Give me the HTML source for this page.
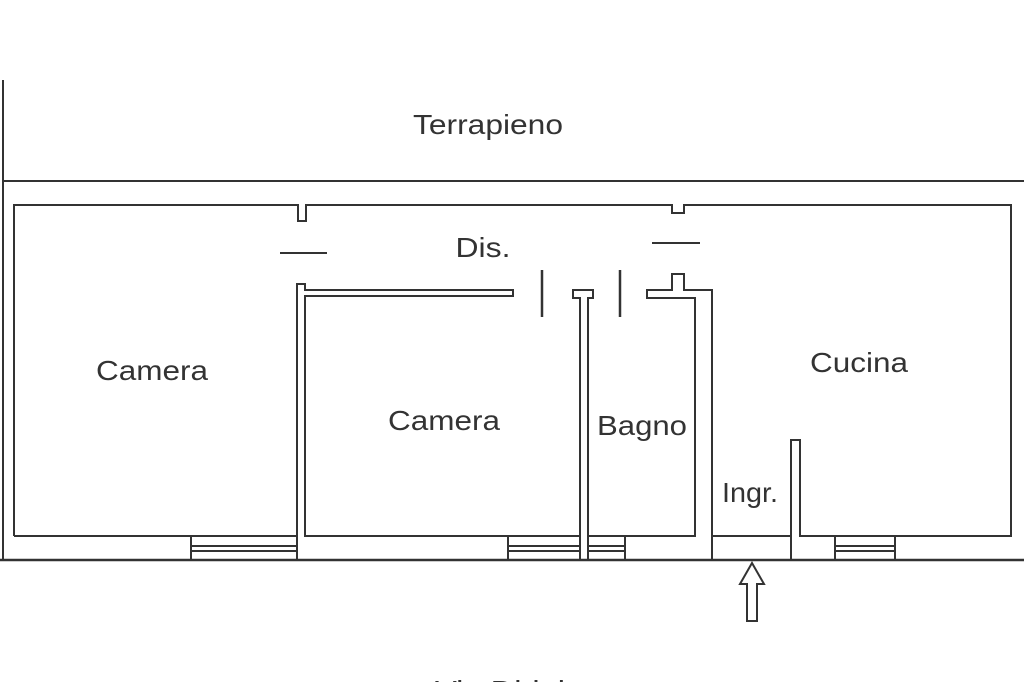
<!DOCTYPE html>
<html><head><style>
html,body{margin:0;padding:0;background:#fff;}
svg{display:block}
text{font-family:"Liberation Sans",sans-serif;fill:#333;font-size:28px;text-anchor:middle}
</style></head><body>
<svg width="1024" height="682" viewBox="0 0 1024 682" xmlns="http://www.w3.org/2000/svg">
<g stroke="#333" stroke-width="2" fill="none">
<line x1="3" y1="80" x2="3" y2="561"/>
<line x1="3" y1="181" x2="1024" y2="181"/>
<line x1="0" y1="560" x2="1024" y2="560" stroke-width="2.5"/>
<polyline points="14,536 14,205 298,205 298,221 306,221 306,205 672,205 672,213 684,213 684,205 1011,205 1011,536 800,536 800,440 791,440 791,560"/>
<line x1="14" y1="536" x2="297" y2="536"/>
<polyline points="297,560 297,284 305,284 305,290 513,290 513,296 305,296 305,536 580,536"/>
<line x1="280" y1="253" x2="327" y2="253"/>
<line x1="542" y1="270" x2="542" y2="317" stroke-width="2.5"/>
<line x1="620" y1="270" x2="620" y2="317" stroke-width="2.5"/>
<polyline points="580,560 580,298 573,298 573,290 593,290 593,298 588,298 588,560"/>
<polyline points="588,536 695,536 695,298 647,298 647,290 672,290 672,274 684,274 684,290 712,290 712,560"/>
<line x1="652" y1="243" x2="700" y2="243"/>
<line x1="712" y1="536" x2="791" y2="536"/>
<g>
<line x1="191" y1="536" x2="191" y2="560"/>
<line x1="191" y1="546" x2="297" y2="546"/>
<line x1="191" y1="551" x2="297" y2="551"/>
<line x1="508" y1="536" x2="508" y2="560"/>
<line x1="508" y1="546" x2="580" y2="546"/>
<line x1="508" y1="551" x2="580" y2="551"/>
<line x1="588" y1="546" x2="625" y2="546"/>
<line x1="588" y1="551" x2="625" y2="551"/>
<line x1="625" y1="536" x2="625" y2="560"/>
<line x1="835" y1="536" x2="835" y2="560"/>
<line x1="835" y1="546" x2="895" y2="546"/>
<line x1="835" y1="551" x2="895" y2="551"/>
<line x1="895" y1="536" x2="895" y2="560"/>
</g>
<polygon points="752,563 740,584 747,584 747,621 757,621 757,584 764,584" stroke-width="2"/>
</g>
<text x="488" y="134" textLength="150" lengthAdjust="spacingAndGlyphs">Terrapieno</text>
<text x="483" y="257" textLength="55" lengthAdjust="spacingAndGlyphs">Dis.</text>
<text x="152" y="380" textLength="112" lengthAdjust="spacingAndGlyphs">Camera</text>
<text x="444" y="430" textLength="112" lengthAdjust="spacingAndGlyphs">Camera</text>
<text x="642" y="435" textLength="90" lengthAdjust="spacingAndGlyphs">Bagno</text>
<text x="750" y="502" textLength="56" lengthAdjust="spacingAndGlyphs">Ingr.</text>
<text x="859" y="372" textLength="98" lengthAdjust="spacingAndGlyphs">Cucina</text>
<text x="500" y="700" textLength="130" lengthAdjust="spacingAndGlyphs">Via Diritti</text>
</svg>
</body></html>
